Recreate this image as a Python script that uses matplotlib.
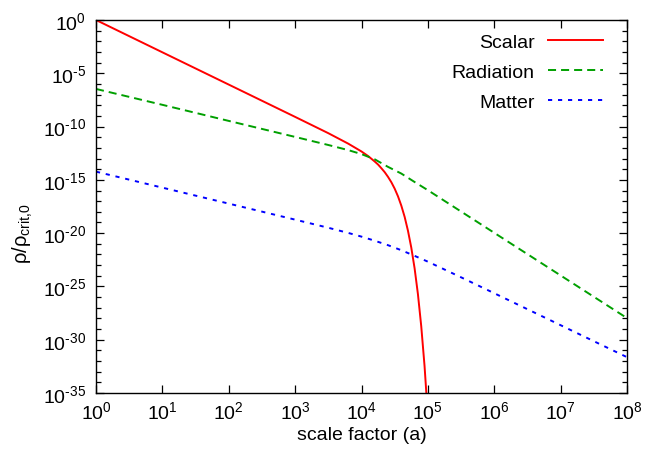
"""Energy densities vs scale factor, log-log."""

import matplotlib
matplotlib.use("Agg")
import matplotlib.pyplot as plt
from matplotlib import ticker
import numpy as np

plt.rcParams['font.family'] = ['Liberation Sans', 'DejaVu Sans']
plt.rcParams['mathtext.fontset'] = 'custom'
plt.rcParams['mathtext.rm'] = 'Liberation Sans'
plt.rcParams['mathtext.it'] = 'Liberation Sans:italic'
plt.rcParams['lines.scale_dashes'] = False

# scalar field density
a_scalar = [1, 1e1, 1e2, 1e3, 3.16e3, 6.31e3, 1.0e4, 1.26e4, 1.58e4, 1.78e4,
            2.0e4, 2.24e4, 2.51e4, 2.82e4, 3.16e4, 3.55e4, 3.98e4, 4.47e4,
            5.01e4, 5.62e4, 6.31e4, 7.08e4, 7.94e4, 8.91e4, 1.0e5]
rho_scalar = [1.0, 9.3e-4, 8.7e-7, 8.1e-10, 2.4e-11, 2.5e-12, 4.6e-13, 1.7e-13,
              5.3e-14, 2.7e-14, 1.2e-14, 5.2e-15, 1.9e-15, 5.9e-16, 1.5e-16,
              2.8e-17, 3.8e-18, 3.3e-19, 1.7e-20, 4.5e-22, 5e-24, 1.9e-26,
              1.9e-29, 3.4e-33, 7e-38]

# radiation and matter share the same sample points
a_fluid = [1, 1e1, 1e2, 1e3, 3.16e3, 6.31e3, 1e4, 1.58e4, 2.51e4, 3.98e4,
           6.31e4, 1e5, 3.16e5, 1e6, 1e7, 1e8]
rho_radiation = [3.4e-7, 1.1e-8, 3.4e-10, 1.07e-11, 1.87e-12, 6.2e-13, 2.6e-13,
                 8.5e-14, 1.65e-14, 3.9e-15, 6.3e-16, 1.07e-16, 1.07e-18,
                 1.07e-20, 1.07e-24, 1.07e-28]
rho_matter = [5.9e-15, 1.86e-16, 5.9e-18, 1.85e-19, 3.2e-20, 1.05e-20, 4.7e-21,
              1.95e-21, 7.4e-22, 2.5e-22, 7.4e-23, 2.1e-23, 7.2e-25, 2.3e-26,
              2.3e-29, 2.3e-32]


def pow10(v, pos):
    # gnuplot-style label: plain hyphen in the exponent
    e = int(round(np.log10(v)))
    return r'$\mathdefault{10^{\text{%d}}}$' % e


fig = plt.figure(figsize=(6.54, 4.56), dpi=100)
ax = fig.add_axes([96/654, 1 - 394/456, (627-96)/654, (394-21)/456])

ax.plot(a_scalar, rho_scalar, color='#ff0000', lw=1.4, label='Scalar')
ax.plot(a_fluid, rho_radiation, color='#00a000', lw=1.4, dashes=(5.8, 3.6),
        label='Radiation')
ax.plot(a_fluid, rho_matter, color='#0000ff', lw=1.4, dashes=(3.0, 4.2),
        label='Matter')

ax.set_xscale('log')
ax.set_yscale('log')
ax.set_xlim(1, 1e8)
ax.set_ylim(1e-35, 1)

ax.xaxis.set_major_locator(ticker.LogLocator(base=10, numticks=20))
ax.xaxis.set_major_formatter(ticker.FuncFormatter(pow10))
ax.xaxis.set_minor_locator(ticker.NullLocator())
ax.yaxis.set_major_locator(ticker.LogLocator(base=1e5, numticks=20))
ax.yaxis.set_major_formatter(ticker.FuncFormatter(pow10))
ax.yaxis.set_minor_locator(ticker.LogLocator(base=10, subs=(1.0,), numticks=60))
ax.yaxis.set_minor_formatter(ticker.NullFormatter())

ax.tick_params(which='both', direction='in', top=True, right=True,
               labelsize=14, width=0.9)
ax.tick_params(which='major', length=6)
ax.tick_params(which='minor', length=3.5)
ax.tick_params(axis='x', pad=5)
ax.tick_params(axis='y', pad=7)
for s in ax.spines.values():
    s.set_linewidth(1.0)

ax.set_xlabel('scale factor (a)', fontsize=14, labelpad=3)
ax.set_ylabel(r'ρ/ρ$_{\mathrm{crit{,}0}}$', fontsize=14.5)
ax.yaxis.set_label_coords(-0.115, 0.43)

ax.legend(loc='upper right', bbox_to_anchor=(0.965, 0.98), frameon=False,
          markerfirst=False, fontsize=14, handlelength=2.8,
          handletextpad=0.7, labelspacing=0.64, borderaxespad=0, borderpad=0.3)

fig.savefig('out.png', dpi=100)
